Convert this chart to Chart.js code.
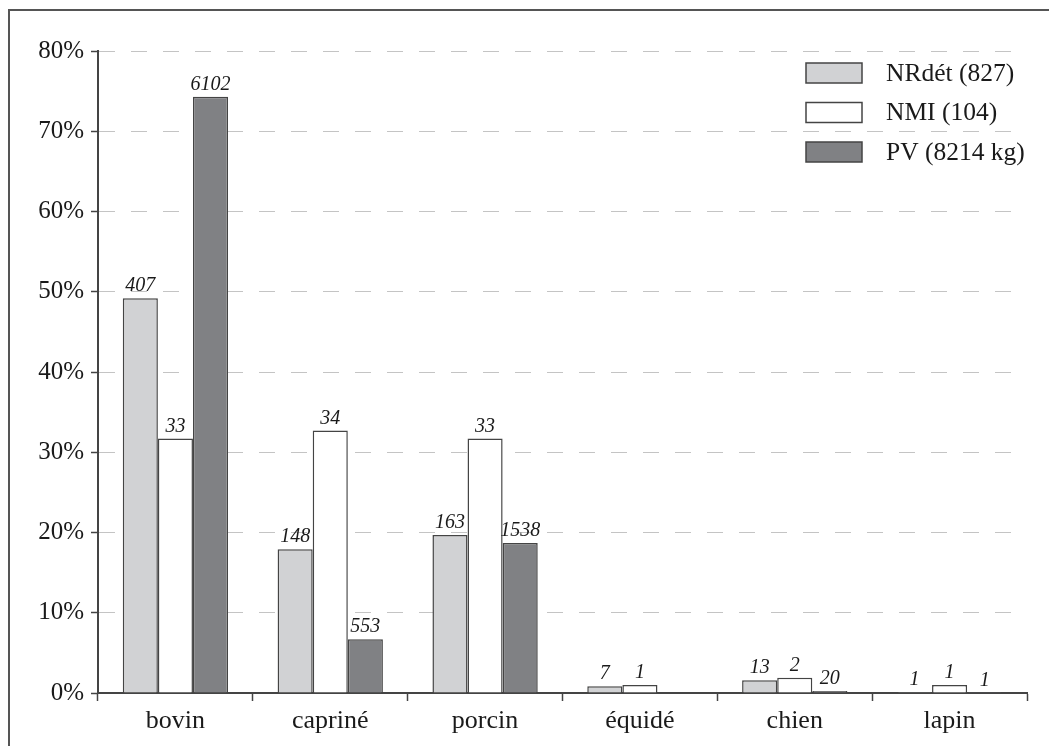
<!DOCTYPE html>
<html>
<head>
<meta charset="utf-8">
<script src="https://cdn.jsdelivr.net/npm/chart.js@4"></script>
<style>
  html, body { margin: 0; padding: 0; background: #fff; overflow: hidden; }
  #wrap { position: relative; width: 1049px; height: 746px; }
  #frame {
    position: absolute; left: 8px; top: 9px; width: 2000px; height: 2000px;
    border: 2px solid #555; box-sizing: border-box; pointer-events: none;
  }
  canvas { position: absolute; left: 0; top: 0; }
</style>
</head>
<body>
<div id="wrap">
  <canvas id="chart" width="1049" height="746"></canvas>
  <div id="frame"></div>
</div>
<script>
// categories and series (percent of each total), counts shown above the bars
const categories = ["bovin", "capriné", "porcin", "équidé", "chien", "lapin"];
const seriesNames = ["NRdét (827)", "NMI (104)", "PV (8214 kg)"];
const nrdetPct = [49.2, 17.9, 19.7, 0.85, 1.6, 0.12];
const nmiPct = [31.7, 32.7, 31.7, 1.0, 1.9, 1.0];
const pvPct = [74.3, 6.7, 18.7, null, 0.24, 0.01];
const nrdetCount = [407, 148, 163, 7, 13, 1];
const nmiCount = [33, 34, 33, 1, 2, 1];
const pvCount = [6102, 553, 1538, null, 20, 1];
const yTicks = [0, 10, 20, 30, 40, 50, 60, 70, 80];

const colors = ["#d1d2d4", "#ffffff", "#808184"];
const serif = "'Liberation Serif', 'DejaVu Serif', serif";
const ink = "#1a1a1a";

const barLabels = {
  id: "barLabels",
  afterDatasetsDraw(chart) {
    const ctx = chart.ctx;
    ctx.save();
    ctx.font = "italic 20px " + serif;
    ctx.fillStyle = ink;
    ctx.textAlign = "center";
    ctx.textBaseline = "alphabetic";
    chart.data.datasets.forEach((ds, di) => {
      const meta = chart.getDatasetMeta(di);
      meta.data.forEach((el, i) => {
        const c = ds.counts[i];
        if (c == null) return;
        ctx.fillText(String(c), el.x, el.y - 7);
      });
    });
    ctx.restore();
  }
};

const boxLegend = {
  id: "boxLegend",
  afterDraw(chart) {
    const ctx = chart.ctx;
    ctx.save();
    ctx.font = "25.5px " + serif;
    ctx.textBaseline = "middle";
    ctx.textAlign = "left";
    chart.data.datasets.forEach((ds, i) => {
      const y = 63 + i * 39.5;
      ctx.fillStyle = ds.backgroundColor;
      ctx.fillRect(806, y, 56, 20);
      ctx.strokeStyle = "#444";
      ctx.lineWidth = 1.5;
      ctx.strokeRect(806, y, 56, 20);
      ctx.fillStyle = ink;
      ctx.fillText(ds.label, 886, y + 11);
    });
    ctx.restore();
  }
};

new Chart(document.getElementById("chart"), {
  type: "bar",
  data: {
    labels: categories,
    datasets: [
      { label: seriesNames[0], data: nrdetPct, counts: nrdetCount, backgroundColor: colors[0] },
      { label: seriesNames[1], data: nmiPct, counts: nmiCount, backgroundColor: colors[1] },
      { label: seriesNames[2], data: pvPct, counts: pvCount, backgroundColor: colors[2] }
    ].map(d => Object.assign(d, {
      borderColor: "#444",
      borderWidth: 1.5,
      barPercentage: 1,
      categoryPercentage: 0.68
    }))
  },
  options: {
    responsive: false,
    animation: false,
    layout: { padding: { top: 51, right: 22, left: 0, bottom: 0 } },
    plugins: {
      legend: { display: false },
      tooltip: { enabled: false }
    },
    scales: {
      x: {
        afterFit(scale) { scale.height = 53; },
        grid: {
          display: true,
          drawOnChartArea: false,
          drawTicks: true,
          tickLength: 8,
          tickColor: "#444",
          tickWidth: 1.5
        },
        border: { display: true, color: "#444", width: 2 },
        ticks: {
          color: ink,
          padding: 5,
          font: { family: serif, size: 26 }
        }
      },
      y: {
        min: 0,
        max: 80,
        afterFit(scale) { scale.width = 98; },
        afterBuildTicks(scale) { scale.ticks = yTicks.map(v => ({ value: v })); },
        grid: {
          color: "#c4c4c4",
          lineWidth: 1,
          drawTicks: true,
          tickLength: 7,
          tickColor: "#444",
          tickWidth: 1.5
        },
        border: { display: true, color: "#444", width: 2, dash: [16, 16] },
        ticks: {
          color: ink,
          padding: 7,
          font: { family: serif, size: 25 },
          callback: v => v + "%"
        }
      }
    }
  },
  plugins: [barLabels, boxLegend]
});
</script>
</body>
</html>
